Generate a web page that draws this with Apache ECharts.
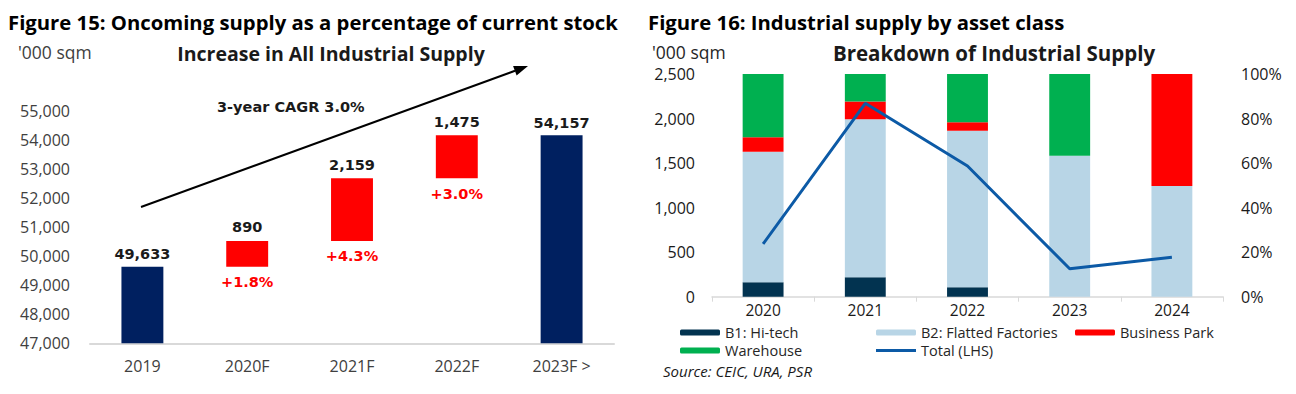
<!DOCTYPE html>
<html><head><meta charset="utf-8">
<script src="https://cdn.jsdelivr.net/npm/echarts@6/dist/echarts.min.js"></script>
<style>html,body{margin:0;padding:0;background:#fff}#c{width:1296px;height:394px}</style>
</head><body><div id="c"></div>
<script>
// ---- Figure 15 data ----
const cats1 = ['2019', '2020F', '2021F', '2022F', '2023F >'];
const stockTotals = [49633, null, null, null, 54157];
const waterBase = [null, 49633, 50523, 52682, null];
const increments = [null, 890, 2159, 1475, null];
const pctLabels = ['', '+1.8%', '+4.3%', '+3.0%', ''];
const y1Min = 47000, y1Max = 55000, y1Step = 1000;

// ---- Figure 16 data ----
const cats2 = ['2020', '2021', '2022', '2023', '2024'];
const b1HiTech = [6.5, 8.7, 4.2, 0, 0];
const b2Flatted = [58.6, 71.0, 70.3, 63.3, 49.7];
const businessPark = [6.5, 7.9, 3.8, 0, 50.3];
const warehouse = [28.4, 12.4, 21.7, 36.7, 0];
const totalSupply = [592, 2171, 1467, 314, 442];
const y2Max = 2500, y2Step = 500;

const OS = "'Open Sans', sans-serif";
const DV = "'DejaVu Sans', sans-serif";
const fmt = v => Number(v).toLocaleString('en-US');

const chart = echarts.init(document.getElementById('c'), null, {renderer: 'svg'});

const legendCommon = {
  itemWidth: 40, itemHeight: 6, padding: 0, itemGap: 0, selectedMode: false,
  textStyle: {fontFamily: OS, fontSize: 14.5, lineHeight: 14, color: '#262626'}
};

const txt = (x, y, text, o) => ({
  type: 'text', x: x, y: y,
  style: Object.assign({text: text, fontFamily: OS, fontSize: 16, fill: '#000', align: 'left', verticalAlign: 'middle'}, o || {})
});

chart.setOption({
  animation: false,
  backgroundColor: '#fff',
  grid: [
    {left: 90, top: 110.8, width: 524, height: 232.5},
    {left: 712, top: 74, width: 511, height: 222.7}
  ],
  xAxis: [
    {type: 'category', gridIndex: 0, data: cats1,
     axisLine: {lineStyle: {color: '#d9d9d9', width: 2}}, axisTick: {show: false},
     axisLabel: {fontFamily: OS, fontSize: 16, color: '#404040', margin: 15}},
    {type: 'category', gridIndex: 1, data: cats2,
     axisLine: {lineStyle: {color: '#d9d9d9', width: 1.5}},
     axisTick: {show: true, length: 5, lineStyle: {color: '#d9d9d9'}},
     axisLabel: {fontFamily: OS, fontSize: 15.5, color: '#1a1a1a', margin: 7, lineHeight: 13}}
  ],
  yAxis: [
    {type: 'value', gridIndex: 0, min: y1Min, max: y1Max, interval: y1Step,
     splitLine: {show: false}, axisLine: {show: false}, axisTick: {show: false},
     axisLabel: {fontFamily: OS, fontSize: 16, color: '#404040', margin: 20, formatter: fmt}},
    {type: 'value', gridIndex: 1, min: 0, max: y2Max, interval: y2Step,
     splitLine: {show: false}, axisLine: {show: false}, axisTick: {show: false},
     axisLabel: {fontFamily: OS, fontSize: 16, color: '#1a1a1a', margin: 17, formatter: fmt}},
    {type: 'value', gridIndex: 1, position: 'right', min: 0, max: 100, interval: 20,
     splitLine: {show: false}, axisLine: {show: false}, axisTick: {show: false},
     axisLabel: {fontFamily: OS, fontSize: 16, color: '#1a1a1a', margin: 18, formatter: '{value}%'}}
  ],
  legend: [
    Object.assign({data: ['B1: Hi-tech'], left: 680, top: 325}, legendCommon),
    Object.assign({data: ['B2: Flatted Factories'], left: 876, top: 325}, legendCommon),
    Object.assign({data: ['Business Park'], left: 1075, top: 325}, legendCommon),
    Object.assign({data: ['Warehouse'], left: 680, top: 343}, legendCommon),
    Object.assign({}, legendCommon, {data: [{name: 'Total (LHS)', icon: 'rect'}], left: 876, top: 343, itemHeight: 3})
  ],
  series: [
    {name: 'base', type: 'bar', xAxisIndex: 0, yAxisIndex: 0, stack: 'w', barWidth: '40%',
     data: waterBase, itemStyle: {color: 'rgba(0,0,0,0)'},
     label: {show: true, position: 'insideTop', distance: 8, fontFamily: DV, fontSize: 14.5, fontWeight: 'bold', color: '#ff0000',
             formatter: p => pctLabels[p.dataIndex]}},
    {name: 'increase', type: 'bar', xAxisIndex: 0, yAxisIndex: 0, stack: 'w',
     data: increments, itemStyle: {color: '#ff0000'},
     label: {show: true, position: 'top', distance: 6, fontFamily: DV, fontSize: 14.5, fontWeight: 'bold', color: '#1a1a1a',
             formatter: p => fmt(p.value)}},
    {name: 'stock', type: 'bar', xAxisIndex: 0, yAxisIndex: 0, stack: 'w',
     data: stockTotals, itemStyle: {color: '#002060'},
     label: {show: true, position: 'top', distance: 5, fontFamily: DV, fontSize: 14.5, fontWeight: 'bold', color: '#1a1a1a',
             formatter: p => fmt(p.value)}},

    {name: 'B1: Hi-tech', type: 'bar', xAxisIndex: 1, yAxisIndex: 2, stack: 's', barWidth: '40%',
     data: b1HiTech, itemStyle: {color: '#023350'}},
    {name: 'B2: Flatted Factories', type: 'bar', xAxisIndex: 1, yAxisIndex: 2, stack: 's',
     data: b2Flatted, itemStyle: {color: '#b8d5e6'}},
    {name: 'Business Park', type: 'bar', xAxisIndex: 1, yAxisIndex: 2, stack: 's',
     data: businessPark, itemStyle: {color: '#ff0000'}},
    {name: 'Warehouse', type: 'bar', xAxisIndex: 1, yAxisIndex: 2, stack: 's',
     data: warehouse, itemStyle: {color: '#00b050'}},
    {name: 'Total (LHS)', type: 'line', xAxisIndex: 1, yAxisIndex: 1,
     data: totalSupply, symbol: 'none', lineStyle: {color: '#0c5aa6', width: 3}, itemStyle: {color: '#0c5aa6'}}
  ],
  graphic: [
    txt(8, 22, 'Figure 15: Oncoming supply as a percentage of current stock', {fontSize: 20.3, fontWeight: 'bold'}),
    txt(648, 22, 'Figure 16: Industrial supply by asset class', {fontSize: 20.3, fontWeight: 'bold'}),
    txt(18, 52, "'000 sqm", {fontSize: 17.5, fill: '#404040'}),
    txt(652, 52, "'000 sqm", {fontSize: 17.5, fill: '#262626'}),
    txt(331, 53, 'Increase in All Industrial Supply', {fontSize: 19.5, fontWeight: 'bold', align: 'center', fill: '#1a1a1a'}),
    txt(994, 53, 'Breakdown of Industrial Supply', {fontSize: 20.5, fontWeight: 'bold', align: 'center', fill: '#1a1a1a'}),
    txt(217, 107, '3-year CAGR 3.0%', {fontFamily: DV, fontSize: 14.5, fontWeight: 'bold', fill: '#1a1a1a'}),
    txt(663, 371, 'Source: CEIC, URA, PSR', {fontSize: 15, fontStyle: 'italic', fill: '#1a1a1a'}),
    {type: 'line', shape: {x1: 141, y1: 207, x2: 515, y2: 70.8}, style: {stroke: '#000', lineWidth: 2}},
    {type: 'polygon', shape: {points: [[528, 66], [516.6, 75.5], [513.1, 66.1]]}, style: {fill: '#000'}}
  ]
});
</script></body></html>
